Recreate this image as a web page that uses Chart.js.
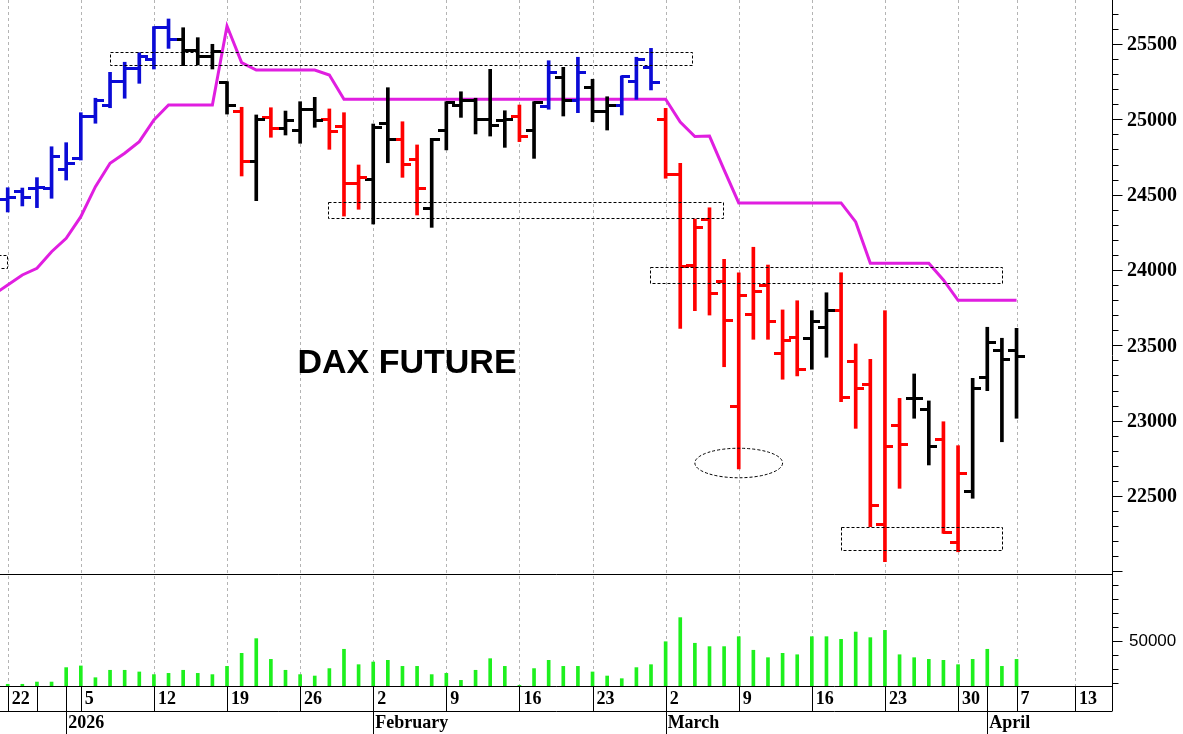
<!DOCTYPE html>
<html>
<head>
<meta charset="utf-8">
<script src="https://cdn.jsdelivr.net/npm/chart.js@4/dist/chart.umd.min.js"></script>
<style>
  html, body { margin: 0; padding: 0; background: #fff; }
  #wrap { width: 1183px; height: 734px; }
</style>
</head>
<body>
<div id="wrap"><canvas id="dax" width="1183" height="734"></canvas></div>
<script>
// daily bars, index 0 = 22 Dec 2025 ... 69 = 7 Apr 2026 (trading days only)
const opens  = [24470,24518,24540,24542,24664,24741,25022,25095,25250,25339,
                25400,25608,25533,25460,25416,25243,25051,24719,25013,24940,
                24923,25062,24996,24951,24571,24602,24974,24867,24735,24405,
                24925,25095,25128,24996,24990,25022,24925,25084,25279,25128,
                25213,25051,25095,25250,25345,24996,24631,24027,24336,23922,
                23093,23706,23894,23447,23553,23547,23620,23730,23391,23237,
                22314,22971,23150,23071,22876,22190,22529,23288,23469,23469];
const highs  = [24546,24544,24613,24818,24845,25044,25140,25312,25379,25442,
                25615,25666,25608,25542,25498,25250,25080,25029,25077,25055,
                25117,25146,25069,25044,24697,24969,25210,24984,24830,24874,
                25117,25183,25140,25332,25057,25095,25117,25389,25345,25412,
                25266,25150,25288,25412,25471,25073,24708,24338,24413,24071,
                23982,24151,24033,23735,23796,23730,23849,23982,23509,23407,
                23730,23148,23310,23131,22993,22834,23281,23620,23547,23613];
const lows   = [24385,24425,24414,24476,24597,24730,24974,25077,25140,25239,
                25334,25471,25356,25361,25334,25035,24624,24460,24881,24896,
                24841,24947,24801,24358,24403,24305,24712,24615,24365,24283,
                24797,25013,24903,24889,24814,24852,24741,25067,25022,25044,
                24984,24929,25029,25133,25195,24609,23613,23730,23701,23358,
                22679,23540,23540,23275,23297,23341,23421,23126,22949,22296,
                22064,22551,23016,22706,22252,22130,22485,23199,22860,23016];
const closes = [24480,24478,24545,24752,24704,25022,25122,25250,25339,25420,
                25608,25533,25460,25416,25449,25090,24719,25000,24940,24989,
                25062,24989,24918,24571,24615,24947,24867,24702,24538,24867,
                25110,25128,24996,24956,25000,24885,25110,25309,25128,25309,
                25051,25095,25283,25394,25243,24631,24022,24283,23841,23663,
                23834,23856,23657,23531,23341,23657,23730,23155,23215,22434,
                22827,22845,23145,22827,22256,22650,23215,23517,23407,23425];
// bar colour code: b = blue, k = black, r = red
const barCodes = ('bbbbbbbbbbbb' + 'kkkk' + 'r' + 'k' + 'r' + 'kkk' + 'rrr' + 'kk' + 'rr' +
                  'kkkkkk' + 'r' + 'k' + 'b' + 'k' + 'b' + 'kk' + 'bbb' +
                  'rrrrrrrrrr' + 'kk' + 'rrrrr' + 'kk' + 'rr' + 'kkkk').split('');
const volumes = [18800,18800,20400,20400,30700,31900,23500,28800,28800,27600,
                 25700,26600,28800,26600,25700,31600,40900,51400,36600,28800,
                 25700,24700,30000,43800,32800,34700,35900,31600,31600,25700,
                 26600,21600,28800,37100,31600,18000,30000,35900,31600,31600,
                 27600,24700,22800,30700,32800,49200,66400,48100,45700,45700,
                 52800,43100,37800,40900,39900,52800,52800,50900,56100,52100,
                 57300,39900,37800,36600,35900,32800,36600,43800,31600,36600];
// magenta stop line, starts one day before the first bar
const stopFrom = -1;
const stopLine = [23835,23900,23967,24011,24121,24210,24354,24553,24708,24775,24852,
                  24996,25095,25095,25095,25095,25619,25376,25327,25327,25327,
                  25327,25327,25294,25133,25133,25133,25133,25133,25133,25133,
                  25133,25133,25133,25133,25133,25133,25133,25133,25133,25133,
                  25133,25133,25133,25133,25133,25133,24982,24886,24889,24664,
                  24445,24445,24445,24445,24445,24445,24445,24445,24319,24045,
                  24045,24045,24045,24045,23934,23799,23799,23799,23799,23799];

// time axis
const weekIdx    = [0,5,10,15,20,25,30,35,40,45,50,55,60,65,69,73];
const weekLabels = ['22','5','12','19','26','2','9','16','23','2','9','16','23','30','7','13'];
const extraCellIdx = [2];
const monthIdx    = [4,25,45,67];
const monthLabels = ['2026','February','March','April'];
const priceLabels = [22500,23000,23500,24000,24500,25000,25500];
const volumeLabels = [50000];

// annotations: [fromDay, toDay, upperPrice, lowerPrice]
const boxes = [[7.0,46.8,25447,25361],[21.9,48.9,24449,24343],[43.9,68.0,24018,23916],
               [57.0,68.0,22296,22142],[-1.0,-0.07,24100,24011]];
// ellipse: [day, price, halfWidthDays, halfHeightPoints]
const ellipses = [[50,22719,3.0,98]];

const colorOf = { b: '#0b0bd6', k: '#000000', r: '#ff0000' };

function tickImage(color, side) {
  const cv = document.createElement('canvas');
  cv.width = 17; cv.height = 3;
  const g = cv.getContext('2d');
  g.fillStyle = color;
  if (side === 'L') g.fillRect(0, 0, 9, 3); else g.fillRect(8, 0, 9, 3);
  return cv;
}
const tickImgs = {};
Object.keys(colorOf).forEach(k => {
  tickImgs[k] = { L: tickImage(colorOf[k], 'L'), R: tickImage(colorOf[k], 'R') };
});

const SERIF = '"Liberation Serif", "Times New Roman", serif';
const SANS = '"Liberation Sans", Arial, sans-serif';

const decorations = {
  id: 'decorations',
  beforeDatasetsDraw(chart) {
    const { ctx, scales: { x } } = chart;
    ctx.save();
    ctx.strokeStyle = '#b4b4b4';
    ctx.lineWidth = 1;
    ctx.setLineDash([3, 3]);
    weekIdx.forEach(i => {
      const px = Math.round(x.getPixelForValue(i)) + 0.5;
      ctx.beginPath(); ctx.moveTo(px, 0); ctx.lineTo(px, 686); ctx.stroke();
    });
    ctx.restore();
  },
  afterDatasetsDraw(chart) {
    const { ctx, scales: { x, y } } = chart;
    const area = chart.chartArea;
    ctx.save();
    ctx.beginPath();
    ctx.rect(area.left, area.top, area.right - area.left, 574);
    ctx.clip();
    ctx.strokeStyle = '#000';
    ctx.lineWidth = 1;
    ctx.setLineDash([3, 2]);
    boxes.forEach(b => {
      const x0 = Math.round(x.getPixelForValue(b[0])) + 0.5;
      const x1 = Math.round(x.getPixelForValue(b[1])) + 0.5;
      const y0 = Math.round(y.getPixelForValue(b[2])) + 0.5;
      const y1 = Math.round(y.getPixelForValue(b[3])) + 0.5;
      ctx.strokeRect(x0, y0, x1 - x0, y1 - y0);
    });
    ellipses.forEach(e => {
      const cx = x.getPixelForValue(e[0]);
      const cy = y.getPixelForValue(e[1]);
      const rx = x.getPixelForValue(e[0] + e[2]) - cx;
      const ry = y.getPixelForValue(e[1] - e[3]) - cy;
      ctx.beginPath(); ctx.ellipse(cx, cy, rx, ry, 0, 0, Math.PI * 2); ctx.stroke();
    });
    ctx.restore();

    ctx.save();
    ctx.fillStyle = '#000';
    ctx.font = 'bold 34px ' + SANS;
    ctx.textAlign = 'center';
    ctx.textBaseline = 'middle';
    ctx.fillText('DAX FUTURE', 407, 364);
    ctx.restore();
  },
  afterDraw(chart) {
    const { ctx, scales: { x, y, v } } = chart;
    const right = 1112.5;
    ctx.save();
    ctx.strokeStyle = '#000';
    ctx.lineWidth = 1;
    ctx.setLineDash([]);
    const hline = (yy, x0, x1) => { ctx.beginPath(); ctx.moveTo(x0, yy); ctx.lineTo(x1, yy); ctx.stroke(); };
    const vline = (xx, y0, y1) => { ctx.beginPath(); ctx.moveTo(xx, y0); ctx.lineTo(xx, y1); ctx.stroke(); };
    vline(right, 0, 711);
    hline(574.5, 0, right);
    hline(686.5, 0, right);
    hline(711.5, 0, right);

    // price axis
    for (let p = 22000; p <= 25700; p += 100) {
      const py = Math.round(y.getPixelForValue(p)) + 0.5;
      hline(py, right, right + (p % 500 === 0 ? 10 : 6));
    }
    ctx.fillStyle = '#000';
    ctx.font = 'bold 20px ' + SERIF;
    ctx.textAlign = 'left';
    ctx.textBaseline = 'middle';
    priceLabels.forEach(p => ctx.fillText(String(p), 1127, y.getPixelForValue(p) + 1));

    // volume axis
    for (let q = 20000; q <= 90000; q += 10000) {
      const py = Math.round(v.getPixelForValue(q)) + 0.5;
      hline(py, right, right + (q === 50000 ? 10 : 6));
    }
    ctx.font = '17px ' + SANS;
    volumeLabels.forEach(q => ctx.fillText(String(q), 1129, v.getPixelForValue(q) + 1));

    // date rows
    weekIdx.concat(extraCellIdx).forEach(i => {
      vline(Math.round(x.getPixelForValue(i)) + 0.5, 686, 711);
    });
    monthIdx.forEach(i => {
      vline(Math.round(x.getPixelForValue(i)) + 0.5, 686, 734);
    });
    ctx.font = 'bold 18px ' + SERIF;
    weekIdx.forEach((i, k) => ctx.fillText(weekLabels[k], x.getPixelForValue(i) + 4, 699));
    monthIdx.forEach((i, k) => ctx.fillText(monthLabels[k], x.getPixelForValue(i) + 2, 723));
    ctx.restore();
  }
};

const hlData = highs.map((h, i) => ({ x: i, y: [lows[i], h] }));
const openData = opens.map((o, i) => ({ x: i, y: o }));
const closeData = closes.map((c, i) => ({ x: i, y: c }));
const volData = volumes.map((q, i) => ({ x: i, y: q }));
const stopData = stopLine.map((s, k) => ({ x: stopFrom + k, y: s }));

new Chart(document.getElementById('dax'), {
  type: 'bar',
  data: {
    datasets: [
      {
        type: 'bar', data: volData, yAxisID: 'v', grouped: false,
        backgroundColor: '#1ef01e', barThickness: 3, borderWidth: 0, order: 5
      },
      {
        type: 'line', data: stopData, yAxisID: 'y',
        borderColor: '#e01ee0', borderWidth: 3, pointRadius: 0, tension: 0, order: 4
      },
      {
        type: 'bar', data: hlData, yAxisID: 'y', grouped: false,
        backgroundColor: barCodes.map(c => colorOf[c]), barThickness: 3, borderWidth: 0, order: 3
      },
      {
        type: 'line', data: openData, yAxisID: 'y', showLine: false, pointRadius: 3,
        pointStyle: ctx => tickImgs[barCodes[ctx.dataIndex]].L, order: 2
      },
      {
        type: 'line', data: closeData, yAxisID: 'y', showLine: false, pointRadius: 3,
        pointStyle: ctx => tickImgs[barCodes[ctx.dataIndex]].R, order: 1
      }
    ]
  },
  options: {
    responsive: false,
    animation: false,
    events: [],
    layout: { autoPadding: false, padding: { left: 0, top: 0, right: 71, bottom: 48 } },
    plugins: { legend: { display: false }, tooltip: { enabled: false } },
    scales: {
      x: { type: 'linear', min: -0.527, max: 75.53, offset: false, display: false },
      y: { type: 'linear', min: 21239, max: 25792, display: false },
      v: { type: 'linear', min: 17570, max: 507580, display: false }
    }
  },
  plugins: [decorations]
});
</script>
</body>
</html>
